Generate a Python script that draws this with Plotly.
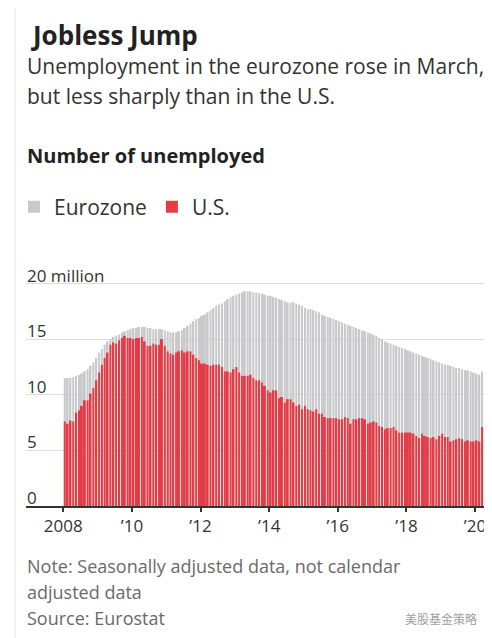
import pandas as pd
import plotly.graph_objects as go

# ---------------- data (millions, monthly, Jan 2008 - Mar 2020) ----------------
months = pd.date_range("2008-01-01", "2020-03-01", freq="MS").strftime("%Y-%m-%d").tolist()

eurozone = [
    11.5, 11.5, 11.5, 11.6, 11.7, 11.8, 11.9, 12.1, 12.3, 12.6, 12.9, 13.3,   # 2008
    13.8, 14.1, 14.5, 14.8, 15.0, 15.2, 15.3, 15.4, 15.6, 15.7, 15.8, 15.9,   # 2009
    16.0, 16.0, 16.1, 16.1, 16.1, 16.0, 16.0, 15.9, 15.9, 15.9, 15.9, 15.8,   # 2010
    15.7, 15.6, 15.6, 15.6, 15.7, 15.8, 16.0, 16.2, 16.4, 16.6, 16.8, 16.9,   # 2011
    17.1, 17.2, 17.4, 17.6, 17.8, 18.0, 18.1, 18.2, 18.4, 18.6, 18.8, 18.9,   # 2012
    19.0, 19.1, 19.2, 19.3, 19.3, 19.3, 19.2, 19.2, 19.1, 19.1, 19.0, 18.9,   # 2013
    18.9, 18.8, 18.7, 18.6, 18.5, 18.4, 18.3, 18.3, 18.3, 18.2, 18.1, 18.0,   # 2014
    17.8, 17.7, 17.7, 17.6, 17.5, 17.4, 17.2, 17.1, 17.0, 16.9, 16.8, 16.7,   # 2015
    16.6, 16.5, 16.4, 16.3, 16.2, 16.1, 16.0, 15.9, 15.8, 15.7, 15.6, 15.5,   # 2016
    15.4, 15.3, 15.1, 15.0, 14.8, 14.7, 14.6, 14.5, 14.4, 14.3, 14.2, 14.1,   # 2017
    14.0, 13.9, 13.8, 13.7, 13.6, 13.5, 13.4, 13.3, 13.2, 13.1, 13.0, 12.9,   # 2018
    12.8, 12.7, 12.7, 12.6, 12.5, 12.4, 12.4, 12.3, 12.2, 12.2, 12.1, 12.0,   # 2019
    11.9, 11.8, 12.1,                                                          # 2020
]

us = [
    7.6, 7.4, 7.7, 7.6, 8.4, 8.6, 9.0, 9.5, 9.5, 10.1, 10.6, 11.3,            # 2008
    12.0, 12.7, 13.3, 13.8, 14.5, 14.7, 14.6, 14.9, 15.1, 15.3, 15.1, 15.1,   # 2009
    15.0, 15.1, 15.1, 15.2, 14.8, 14.4, 14.4, 14.6, 14.5, 14.5, 15.0, 14.4,   # 2010
    13.9, 13.7, 13.6, 13.8, 13.9, 14.0, 13.8, 13.9, 13.9, 13.6, 13.3, 13.1,   # 2011
    12.8, 12.8, 12.7, 12.6, 12.7, 12.7, 12.7, 12.5, 12.1, 12.1, 12.0, 12.3,   # 2012
    12.5, 12.0, 11.7, 11.7, 11.7, 11.8, 11.5, 11.3, 11.3, 11.1, 10.8, 10.4,   # 2013
    10.2, 10.4, 10.4, 9.7, 9.8, 9.3, 9.6, 9.6, 9.3, 9.0, 9.1, 8.7,            # 2014
    9.0, 8.7, 8.6, 8.5, 8.7, 8.3, 8.3, 8.0, 7.9, 7.9, 7.9, 7.9,               # 2015
    7.8, 7.8, 8.0, 7.9, 7.4, 7.8, 7.8, 7.9, 7.9, 7.8, 7.4, 7.5,               # 2016
    7.6, 7.5, 7.2, 7.1, 6.9, 7.0, 7.0, 7.1, 6.8, 6.6, 6.6, 6.6,               # 2017
    6.6, 6.6, 6.5, 6.3, 6.1, 6.5, 6.3, 6.2, 6.1, 6.2, 6.0, 6.3,               # 2018
    6.5, 6.2, 6.2, 5.8, 5.9, 6.0, 6.1, 6.0, 5.8, 5.9, 5.8, 5.8,               # 2019
    5.9, 5.8, 7.1,                                                             # 2020
]

series_names = ["Eurozone", "U.S."]
x_tick_vals = ["2008-01-01", "2010-01-01", "2012-01-01", "2014-01-01",
               "2016-01-01", "2018-01-01", "2020-01-01"]
x_tick_text = ["2008", "\u201910", "\u201912", "\u201914", "\u201916", "\u201918", "\u201920"]
y_tick_vals = [0, 5, 10, 15, 20]
y_tick_text = ["0", "5", "10", "15", "20 million"]

title = "Jobless Jump"
subtitle_lines = ["Unemployment in the eurozone rose in March,",
                  "but less sharply than in the U.S."]
chart_label = "Number of unemployed"
note_lines = ["Note: Seasonally adjusted data, not calendar",
              "adjusted data",
              "Source: Eurostat"]
watermark = "美股基金策略"

# ---------------- layout geometry ----------------
# The page body has an 8px margin, so page coordinates are shifted by OFF.
OFF = 8
FIG_W, FIG_H = 484, 630
L, R, T, B = 18, 6, 231, 132
W = FIG_W - L - R
H = FIG_H - T - B
BOTTOM = FIG_H - B

def px(x):  # page pixel -> paper x
    return (x - OFF - L) / W

def py(y):  # page pixel -> paper y
    return (BOTTOM - (y - OFF)) / H

FONT = "Open Sans"
GRAY = "#c9c9cb"
RED = "#e43c47"
TICK_COLOR = "#333333"

fig = go.Figure()
fig.add_trace(go.Bar(x=months, y=eurozone, name=series_names[0],
                     marker=dict(color=GRAY, line=dict(width=0)),
                     xperiod="M1", xperiodalignment="middle"))
fig.add_trace(go.Bar(x=months, y=us, name=series_names[1],
                     marker=dict(color=RED, line=dict(width=0)),
                     xperiod="M1", xperiodalignment="middle"))

annotations = []
def text(t, x, y, size, color, bold=False, family=FONT):
    annotations.append(dict(
        text=f"<b>{t}</b>" if bold else t, xref="paper", yref="paper",
        x=px(x), y=py(y), xanchor="left", yanchor="middle", showarrow=False,
        font=dict(family=family, size=size, color=color)))

text(title, 29, 35, 26, "#222222", bold=True)
text(subtitle_lines[0], 25, 66, 21, "#333333")
text(subtitle_lines[1], 25, 96, 21, "#333333")
text(chart_label, 25, 156, 20, "#222222", bold=True)
for i, line in enumerate(note_lines):
    text(line, 25, 566 + 26 * i, 18, "#6a6a6a")
text(watermark, 403, 618, 12, "#a0a0a0", family="Noto Sans CJK SC")

# y-axis tick labels: left-aligned, sitting on top of their gridlines (data coords)
for v, lab in zip(y_tick_vals, y_tick_text):
    annotations.append(dict(
        text=lab, xref="paper", yref="y", x=0, y=v,
        xanchor="left", yanchor="bottom", xshift=-1, yshift=-5, showarrow=False,
        font=dict(family=FONT, size=17, color=TICK_COLOR)))

fig.update_layout(
    width=FIG_W, height=FIG_H, autosize=False,
    margin=dict(l=L, r=R, t=T, b=B, pad=0),
    paper_bgcolor="white", plot_bgcolor="white",
    barmode="overlay", bargap=0.28,
    font=dict(family=FONT, color="#333333"),
    showlegend=True,
    legend=dict(orientation="h", x=px(14), y=py(207), xanchor="left", yanchor="middle",
                font=dict(family=FONT, size=21, color="#333333"),
                bgcolor="rgba(0,0,0,0)", traceorder="normal",
                itemclick=False, itemdoubleclick=False),
    annotations=annotations,
    shapes=[dict(type="line", xref="paper", yref="paper",
                 x0=px(15), x1=px(15), y0=py(OFF), y1=py(650),
                 line=dict(color="#e4e4e4", width=1))],
)

fig.update_xaxes(
    type="date", range=["2006-11-30", "2020-04-27"],
    tickvals=x_tick_vals, ticktext=x_tick_text,
    showgrid=False, zeroline=False,
    showline=True, linecolor=TICK_COLOR, linewidth=1.5,
    ticks="outside", ticklen=4, tickwidth=1.5, tickcolor=TICK_COLOR,
    tickfont=dict(family=FONT, size=17, color=TICK_COLOR),
    fixedrange=True,
)
fig.update_yaxes(
    range=[0, 24],
    tickvals=y_tick_vals, showticklabels=False,
    showgrid=True, gridcolor="#dddddd", gridwidth=1,
    zeroline=False, showline=False, ticks="",
    fixedrange=True,
)

fig.write_html("out.html", config={"displayModeBar": False})
